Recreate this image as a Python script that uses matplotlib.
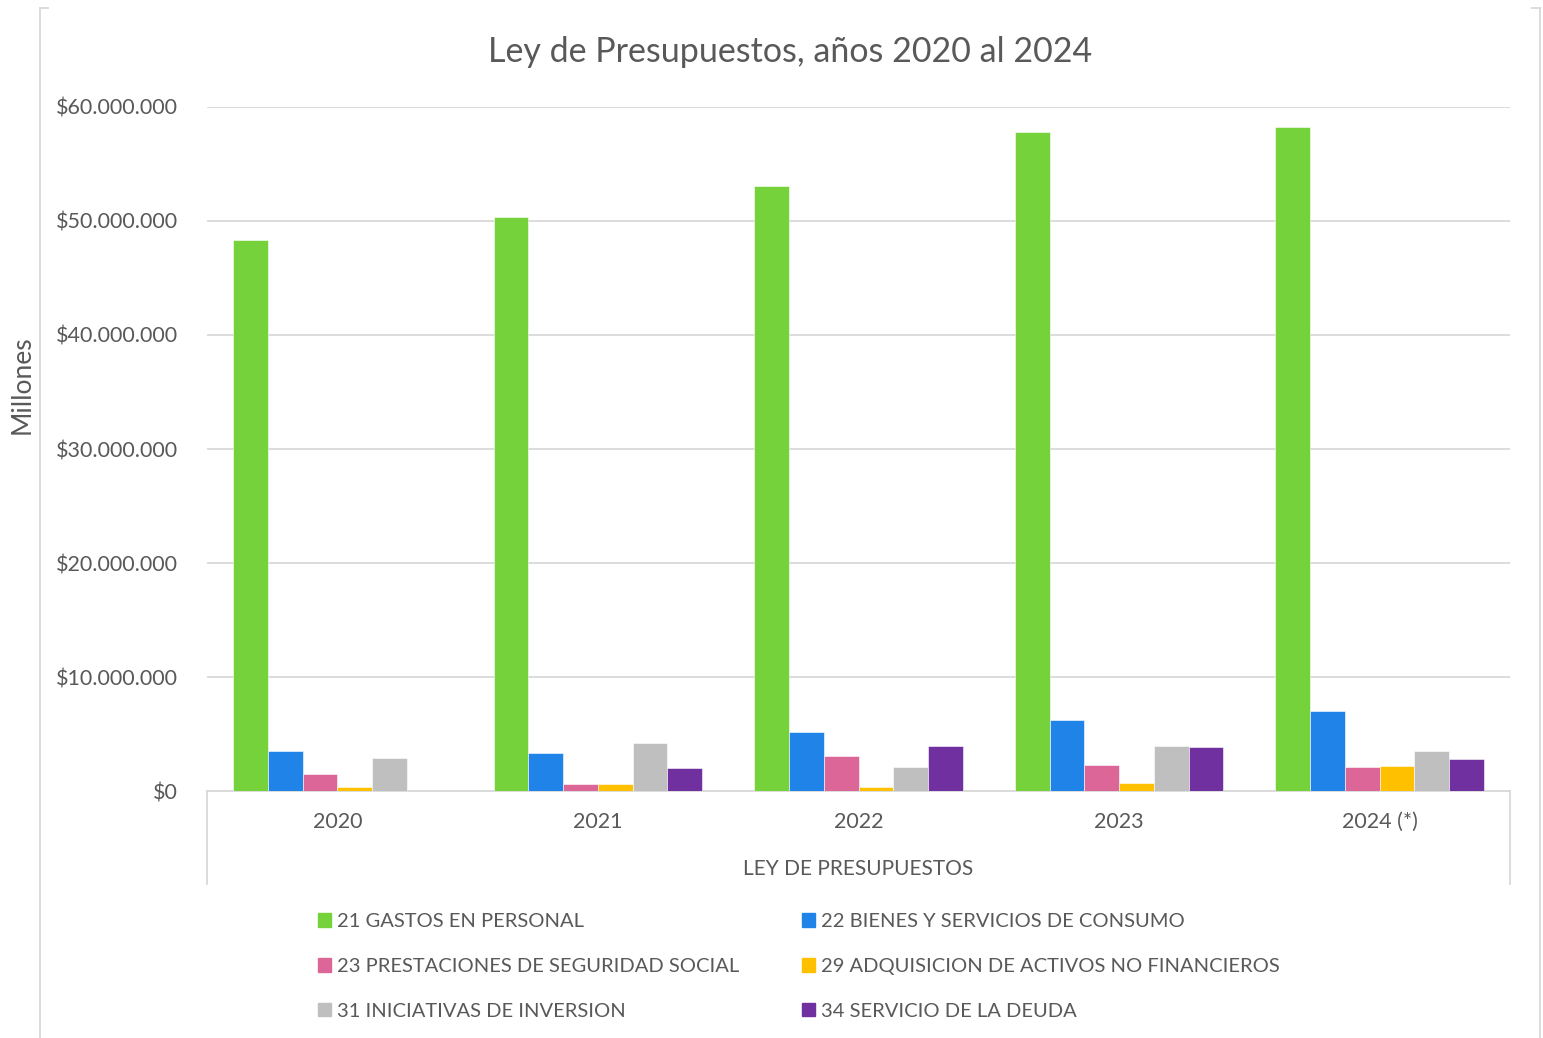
import matplotlib.pyplot as plt
import numpy as np
from matplotlib.lines import Line2D
from matplotlib.patches import Patch
from matplotlib.ticker import FuncFormatter

plt.rcParams['font.family'] = ['Lato', 'DejaVu Sans']

# data
years = ['2020', '2021', '2022', '2023', '2024 (*)']
series_names = [
    '21 GASTOS EN PERSONAL',
    '22 BIENES Y SERVICIOS DE CONSUMO',
    '23 PRESTACIONES DE SEGURIDAD SOCIAL',
    '29 ADQUISICION DE ACTIVOS NO FINANCIEROS',
    '31 INICIATIVAS DE INVERSION',
    '34 SERVICIO DE LA DEUDA',
]
gastos_personal = [48330000, 50350000, 53070000, 57800000, 58250000]
bienes_servicios = [3500000, 3350000, 5170000, 6220000, 7000000]
prestaciones = [1490000, 630000, 3070000, 2280000, 2120000]
activos_no_fin = [370000, 630000, 350000, 700000, 2200000]
iniciativas_inv = [2900000, 4200000, 2100000, 3940000, 3500000]
servicio_deuda = [0, 2000000, 3950000, 3860000, 2780000]

values = [gastos_personal, bienes_servicios, prestaciones,
          activos_no_fin, iniciativas_inv, servicio_deuda]
colors = ['#75D23B', '#2083E8', '#DD6699', '#FFC000', '#BFBFBF', '#7030A0']

text_color = '#595959'
grid_color = '#D9D9D9'

W, H = 1543, 1038
fig = plt.figure(figsize=(W / 100, H / 100), dpi=100)
ax = fig.add_axes([207 / W, 247 / H, (1510 - 207) / W, (791 - 107) / H])

x = np.arange(len(years))
w = 1 / 7.5
for i, (vals, col) in enumerate(zip(values, colors)):
    ax.bar(x + (i - 2.5) * w, vals, width=w, color=col, zorder=3,
           edgecolor='white', linewidth=0.4)

ax.set_xlim(-0.5, len(years) - 0.5)
ax.set_ylim(0, 60000000)
ax.set_yticks(np.arange(0, 60000001, 10000000))
ax.yaxis.set_major_formatter(FuncFormatter(
    lambda v, p: '$' + f'{int(v):,}'.replace(',', '.')))
ax.grid(axis='y', color=grid_color, linewidth=1.3, zorder=0)
ax.set_xticks(x)
ax.set_xticklabels(years)
ax.tick_params(axis='both', length=0, labelsize=15.5, labelcolor=text_color)
ax.tick_params(axis='x', pad=15)
ax.tick_params(axis='y', pad=21)
for s in ['top', 'right', 'left']:
    ax.spines[s].set_visible(False)
ax.spines['bottom'].set_color(grid_color)
ax.spines['bottom'].set_linewidth(1.3)

# multi-level category axis box
box_depth = (884 - 791) / (791 - 107)
for xx in (0, 1):
    ax.plot([xx, xx], [0, -box_depth], transform=ax.transAxes,
            color=grid_color, lw=1.3, clip_on=False)
ax.text(0.5, -(869 - 791) / (791 - 107), 'LEY DE PRESUPUESTOS',
        transform=ax.transAxes, ha='center', va='center',
        fontsize=15, color=text_color)

fig.text(790 / W, 1 - 52 / H, 'Ley de Presupuestos, años 2020 al 2024',
         ha='center', va='center', fontsize=24.5, color=text_color)
fig.text(22 / W, 1 - 385 / H, 'Millones', rotation=90,
         ha='center', va='center', fontsize=19, color=text_color)

# legend, row-major order
order = [0, 2, 4, 1, 3, 5]
handles = [Patch(color=colors[i]) for i in order]
labels = [series_names[i] for i in order]
fig.legend(handles, labels, ncol=2, loc='upper left',
           bbox_to_anchor=(308 / W, 1 - 903 / H), frameon=False,
           fontsize=14.5, labelcolor=text_color, handlelength=0.65,
           handleheight=0.65, handletextpad=0.3, columnspacing=3.1,
           labelspacing=1.38, borderpad=0)

# chart area border
for xf in (40, 1540):
    fig.add_artist(Line2D([xf / W, xf / W], [0, 1 - 8 / H],
                          color=grid_color, lw=1.3))
fig.add_artist(Line2D([40 / W, 48 / W], [1 - 8 / H, 1 - 8 / H],
                      color=grid_color, lw=1.3))
fig.add_artist(Line2D([1532 / W, 1540 / W], [1 - 8 / H, 1 - 8 / H],
                      color=grid_color, lw=1.3))

fig.savefig('out.png', dpi=100, facecolor='white')
